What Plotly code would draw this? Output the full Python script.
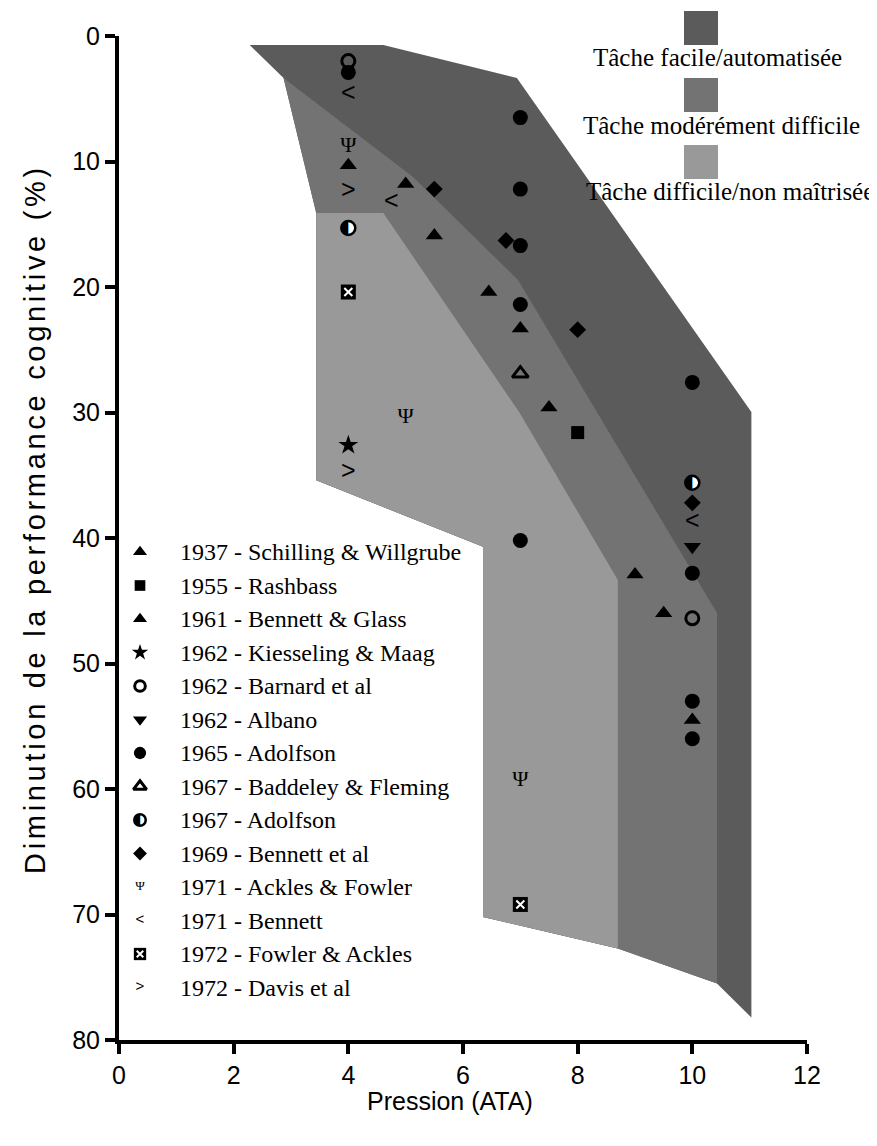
import plotly.graph_objects as go

# page (browser) body has an 8px margin: figure is sized/offset so that page pixels match
OFF = 8
W, H = 877 - OFF, 1146 - OFF
PLOT_LEFT, PLOT_TOP, PLOT_RIGHT, PLOT_BOTTOM = 119, 36, 807, 1040   # page pixels
ML, MT = PLOT_LEFT - OFF, PLOT_TOP - OFF
PW, PH = PLOT_RIGHT - PLOT_LEFT, PLOT_BOTTOM - PLOT_TOP
MR, MB = W - ML - PW, H - MT - PH

# ---------------- data ----------------
x_ticks = [0, 2, 4, 6, 8, 10, 12]
y_ticks = [0, 10, 20, 30, 40, 50, 60, 70, 80]

# shaded zones (outer = easy task, then moderate, then difficult)
easy_x = [2.28, 4.61, 6.94, 11.03, 11.03, 10.43, 8.70, 6.35, 6.35, 3.44, 3.44, 2.87]
easy_y = [0.72, 0.72, 3.35, 29.96, 78.2, 75.5, 72.7, 70.2, 40.7, 35.4, 14.1, 3.35]
moderate_x = [2.87, 5.13, 6.96, 10.43, 10.43, 8.70, 6.35, 6.35, 3.44, 3.44]
moderate_y = [3.35, 11.24, 19.44, 45.98, 75.5, 72.7, 70.2, 40.7, 35.4, 14.1]
difficult_x = [3.44, 4.61, 6.99, 8.70, 8.70, 6.35, 6.35, 3.44]
difficult_y = [14.1, 14.1, 30.04, 43.35, 72.7, 70.2, 40.7, 35.4]
zone_names = ["Tâche facile/automatisée", "Tâche modérément difficile", "Tâche difficile/non maîtrisée"]
zone_colors = ["#5b5b5b", "#737373", "#999999"]

# studies
schilling_x = [4, 5, 7, 10]
schilling_y = [10.3, 11.8, 23.3, 54.5]
rashbass_x = [8]
rashbass_y = [31.6]
bennett_glass_x = [5.5, 6.45, 7.5, 9, 9.5]
bennett_glass_y = [15.9, 20.4, 29.6, 42.9, 46.0]
kiesseling_x = [4]
kiesseling_y = [32.6]
barnard_x = [4, 10]
barnard_y = [2.0, 46.4]
albano_x = [10]
albano_y = [40.7]
adolfson65_x = [4, 7, 7, 7, 7, 7, 10, 10, 10, 10]
adolfson65_y = [2.9, 6.5, 12.2, 16.7, 21.4, 40.2, 27.6, 42.8, 53.0, 56.0]
baddeley_x = [7]
baddeley_y = [26.9]
adolfson67_x = [4, 10]
adolfson67_y = [15.3, 35.6]
bennett69_x = [5.5, 6.75, 8, 10]
bennett69_y = [12.2, 16.3, 23.4, 37.2]
ackles_x = [4, 5, 7]
ackles_y = [8.8, 30.4, 59.3]
bennett71_x = [4, 4.75, 10]
bennett71_y = [4.7, 13.3, 38.8]
fowler_x = [4, 7]
fowler_y = [20.4, 69.2]
davis_x = [4, 4]
davis_y = [12.4, 34.8]

study_labels = [
    "1937 - Schilling & Willgrube", "1955 - Rashbass", "1961 - Bennett & Glass",
    "1962 - Kiesseling & Maag", "1962 - Barnard et al", "1962 - Albano",
    "1965 - Adolfson", "1967 - Baddeley & Fleming", "1967 - Adolfson",
    "1969 - Bennett et al", "1971 - Ackles & Fowler", "1971 - Bennett",
    "1972 - Fowler & Ackles", "1972 - Davis et al",
]
study_x = [schilling_x, rashbass_x, bennett_glass_x, kiesseling_x, barnard_x, albano_x,
           adolfson65_x, baddeley_x, adolfson67_x, bennett69_x, ackles_x, bennett71_x,
           fowler_x, davis_x]
study_y = [schilling_y, rashbass_y, bennett_glass_y, kiesseling_y, barnard_y, albano_y,
           adolfson65_y, baddeley_y, adolfson67_y, bennett69_y, ackles_y, bennett71_y,
           fowler_y, davis_y]
study_kinds = ["triangle", "square", "triangle", "star", "ocircle", "tridown", "circle",
               "otriangle", "halfcircle", "diamond", "psi", "lt", "xsquare", "gt"]

SERIF = "Liberation Serif, Times New Roman, serif"
SANS = "Liberation Sans, Arial, sans-serif"


def marker_traces(x, y, kind, big=True, xa="x", ya="y"):
    s = 1.0 if big else 0.82
    base = dict(x=x, y=y, xaxis=xa, yaxis=ya, showlegend=False, hoverinfo="skip")
    out = []

    def mk(symbol, size, color="black", lw=0, lc="black"):
        return go.Scatter(mode="markers", marker=dict(symbol=symbol, size=size, color=color,
                                                      line=dict(width=lw, color=lc)), **base)

    def tx(t, size, fam):
        return go.Scatter(mode="text", text=[t] * len(x), textposition="middle center",
                          textfont=dict(size=size, family=fam, color="black"), **base)

    if kind == "triangle":
        out.append(mk("triangle-up", 15 * s))
    elif kind == "square":
        out.append(mk("square", 13 * s))
    elif kind == "star":
        out.append(mk("star", 15 * s))
    elif kind == "ocircle":
        out.append(mk("circle-open", 13 * s, lw=3))
    elif kind == "tridown":
        out.append(mk("triangle-down", 15 * s))
    elif kind == "circle":
        out.append(mk("circle", 15 * s))
    elif kind == "otriangle":
        out.append(mk("triangle-up-open", 14 * s, lw=3))
    elif kind == "halfcircle":
        out.append(mk("circle", 14 * s, color="white", lw=2.5))
        out.append(tx("◐", 19 * s, "DejaVu Sans"))
    elif kind == "diamond":
        out.append(mk("diamond", 13 * s))
    elif kind == "psi":
        out.append(tx("Ψ", 22 if big else 13, SERIF))
    elif kind == "lt":
        out.append(tx("<", 25 if big else 15, SANS))
    elif kind == "gt":
        out.append(tx(">", 25 if big else 15, SANS))
    elif kind == "xsquare":
        out.append(mk("square", 15 * s))
        out.append(mk("x-thin-open", 8 * s, color="white", lw=2))
    return out


fig = go.Figure()

# zones
for zx, zy, zc in zip([easy_x, moderate_x, difficult_x], [easy_y, moderate_y, difficult_y], zone_colors):
    fig.add_trace(go.Scatter(x=zx + [zx[0]], y=zy + [zy[0]], mode="lines", fill="toself",
                             fillcolor=zc, line=dict(width=0, color=zc), hoverinfo="skip",
                             showlegend=False))

# study points
for sx, sy, kind in zip(study_x, study_y, study_kinds):
    for tr in marker_traces(sx, sy, kind, big=True):
        fig.add_trace(tr)

# manual legend (overlay axis in pixel units of the plot area)
LEG_X, LEG_TX, LEG_Y0, LEG_DY = 140 - PLOT_LEFT, 178 - PLOT_LEFT, 552 - PLOT_TOP, 33.5
for i, (lab, kind) in enumerate(zip(study_labels, study_kinds)):
    yy = LEG_Y0 + i * LEG_DY
    for tr in marker_traces([LEG_X], [yy], kind, big=False, xa="x2", ya="y2"):
        fig.add_trace(tr)
    fig.add_annotation(x=LEG_TX, y=yy, xref="x2", yref="y2", text=lab, showarrow=False,
                       xanchor="left", yanchor="middle",
                       font=dict(family=SERIF, size=24, color="black"))


def px_x(px):
    return (px - PLOT_LEFT) / PW


def px_y(py):
    return (PLOT_BOTTOM - py) / PH


# zone legend (top right)
sq_tops = [11, 78, 145]
txt_pos = [(717, 58), (721, 125), (730, 192)]
for name, col, top, (tx_, ty_) in zip(zone_names, zone_colors, sq_tops, txt_pos):
    fig.add_shape(type="rect", xref="paper", yref="paper", x0=px_x(684), x1=px_x(718),
                  y0=px_y(top + 34), y1=px_y(top), fillcolor=col, line=dict(width=0))
    fig.add_annotation(x=px_x(tx_), y=px_y(ty_), xref="paper", yref="paper", text=name,
                       showarrow=False, xanchor="center", yanchor="middle",
                       font=dict(family=SERIF, size=25, color="black"))

# axis titles
fig.add_annotation(x=px_x(35), y=px_y(519), xref="paper", yref="paper",
                   text='<span style="letter-spacing:3.7px">Diminution de la performance cognitive (%)</span>',
                   textangle=-90, showarrow=False, xanchor="center", yanchor="middle",
                   font=dict(family=SANS, size=29, color="black"))
fig.add_annotation(x=px_x(450), y=px_y(1101), xref="paper", yref="paper",
                   text="Pression (ATA)", showarrow=False, xanchor="center", yanchor="middle",
                   font=dict(family=SANS, size=25, color="black"))

axis_common = dict(showline=True, linewidth=4, linecolor="black", ticks="outside", ticklen=10,
                   tickwidth=4, tickcolor="black", showgrid=False, zeroline=False,
                   tickfont=dict(family=SANS, size=25, color="black"), fixedrange=True,
                   automargin=False)

fig.update_layout(
    width=W, height=H, autosize=False,
    margin=dict(l=ML, r=MR, t=MT, b=MB, pad=0),
    paper_bgcolor="white", plot_bgcolor="white",
    showlegend=False,
    xaxis=dict(range=[0, 12], tickvals=x_ticks, **axis_common),
    yaxis=dict(range=[80, 0], tickvals=y_ticks, **axis_common),
    xaxis2=dict(overlaying="x", anchor="y2", range=[0, PW], visible=False, fixedrange=True),
    yaxis2=dict(overlaying="y", anchor="x2", range=[PH, 0], visible=False, fixedrange=True),
)

fig.write_html("out.html")
